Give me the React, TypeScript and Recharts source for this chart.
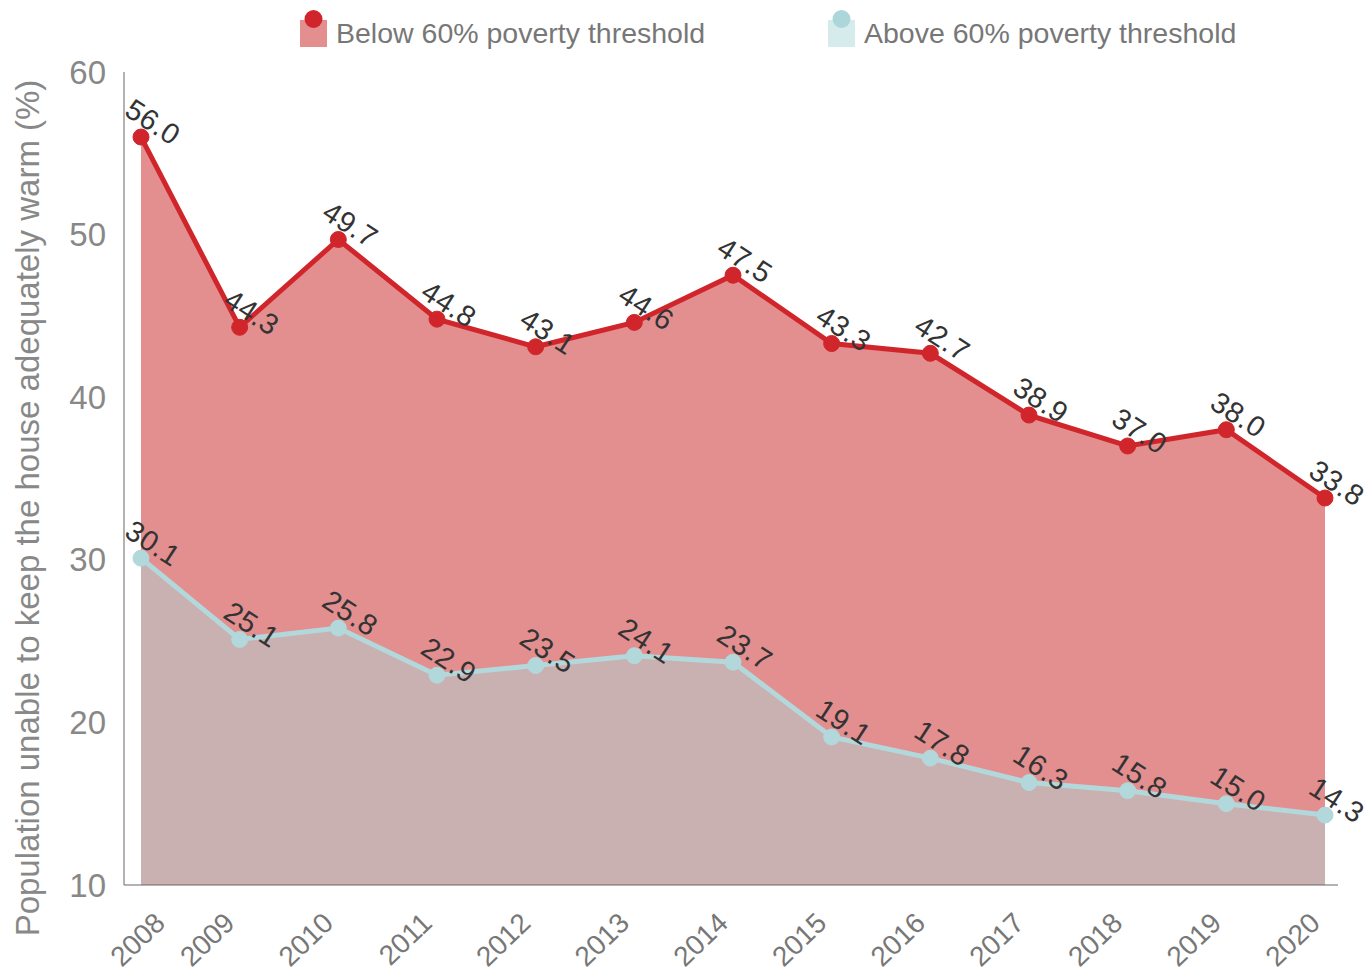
import { Area, AreaChart, XAxis, YAxis, LabelList } from "recharts"

const years = ["2008", "2009", "2010", "2011", "2012", "2013", "2014", "2015", "2016", "2017", "2018", "2019", "2020"]
const below = [56.0, 44.3, 49.7, 44.8, 43.1, 44.6, 47.5, 43.3, 42.7, 38.9, 37.0, 38.0, 33.8]
const above = [30.1, 25.1, 25.8, 22.9, 23.5, 24.1, 23.7, 19.1, 17.8, 16.3, 15.8, 15.0, 14.3]
const yTicks = [10, 20, 30, 40, 50, 60]

const data = years.map((year, i) => ({ year, below: below[i], above: above[i] }))

const FONT = "'Liberation Sans', Arial, sans-serif"

const XTick = ({ x, y, payload, index }: any) => {
  // first label sits a bit further right in the original
  const ax = x - 10 + (index === 0 ? 29 : 0)
  const ay = y + 25
  return (
    <text
      x={ax}
      y={ay}
      transform={`rotate(-44, ${ax}, ${ay})`}
      textAnchor="end"
      dominantBaseline="central"
      fontSize={28}
      fill="#777"
      fontFamily={FONT}
    >
      {payload.value}
    </text>
  )
}

const YTick = ({ y, payload }: any) => (
  <text x={106} y={y} textAnchor="end" dominantBaseline="central" fontSize={33} fill="#888" fontFamily={FONT}>
    {payload.value}
  </text>
)

const PointLabel = ({ x, y, value }: any) => {
  const cx = x + 12
  const cy = y - 15
  return (
    <text
      x={cx}
      y={cy}
      transform={`rotate(33, ${cx}, ${cy})`}
      textAnchor="middle"
      dominantBaseline="central"
      fontSize={29}
      letterSpacing={0.5}
      fill="#333"
      fontFamily={FONT}
    >
      {Number(value).toFixed(1)}
    </text>
  )
}

const LegendItem = ({ left, fill, dot, label }: any) => (
  <div style={{ position: "absolute", left, top: 8, display: "flex", alignItems: "center", height: 42 }}>
    <svg width={30} height={42}>
      <rect x={2} y={12} width={27} height={27} fill={fill} />
      <circle cx={15.5} cy={11} r={9} fill={dot} />
    </svg>
    <span style={{ marginLeft: 8, marginTop: 8, fontSize: 28.5, color: "#777", fontFamily: FONT }}>{label}</span>
  </div>
)

export default function App() {
  return (
    <div style={{ position: "absolute", left: 0, top: 0, width: 1368, height: 973, background: "#fff" }}>
      <LegendItem left={298} fill="#e38e8f" dot="#d0262b" label="Below 60% poverty threshold" />
      <LegendItem left={826} fill="#d6ebec" dot="#acd6da" label="Above 60% poverty threshold" />
      <div
        style={{
          position: "absolute",
          left: 28,
          top: 508,
          transform: "translate(-50%, -50%) rotate(-90deg)",
          whiteSpace: "nowrap",
          fontSize: 33,
          color: "#888",
          fontFamily: FONT,
        }}
      >
        Population unable to keep the house adequately warm (%)
      </div>
      <AreaChart width={1368} height={973} data={data} margin={{ top: 72, right: 30, bottom: 0, left: 0 }}>
        <XAxis
          dataKey="year"
          height={88}
          tickLine={false}
          axisLine={{ stroke: "#666" }}
          tick={<XTick />}
          padding={{ left: 17, right: 13 }}
          interval={0}
        />
        <YAxis
          width={124}
          domain={[10, 60]}
          ticks={yTicks}
          tickLine={false}
          axisLine={{ stroke: "#666" }}
          tick={<YTick />}
        />
        <Area
          type="linear"
          dataKey="below"
          stroke="#d0262b"
          strokeWidth={5}
          fill="#e38e8f"
          fillOpacity={1}
          dot={{ r: 8, fill: "#d0262b", stroke: "#d0262b", strokeWidth: 1 }}
          isAnimationActive={false}
        >
          <LabelList dataKey="below" content={<PointLabel />} />
        </Area>
        <Area
          type="linear"
          dataKey="above"
          stroke="#b2d8db"
          strokeWidth={5}
          fill="#c9b0b1"
          fillOpacity={1}
          dot={{ r: 8, fill: "#b2d8db", stroke: "#b2d8db", strokeWidth: 1 }}
          isAnimationActive={false}
        >
          <LabelList dataKey="above" content={<PointLabel />} />
        </Area>
      </AreaChart>
    </div>
  )
}
